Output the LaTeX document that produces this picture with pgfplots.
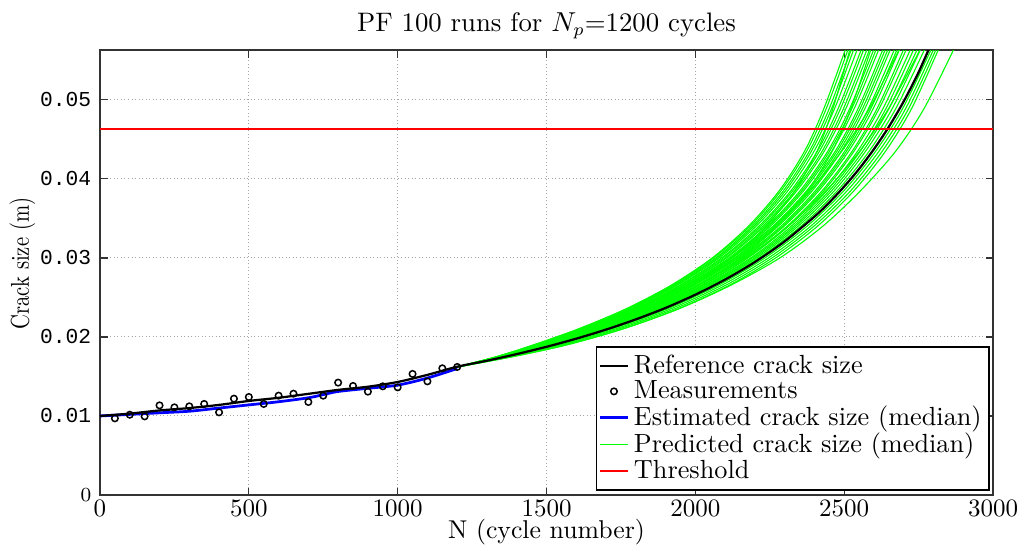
\documentclass[border=0pt]{standalone}
\usepackage{fontspec}
\setmonofont{Liberation Mono}
\usepackage{graphicx}
\usepackage{pgfplots}
\pgfplotsset{compat=1.18}
\pgfplotsset{
    markleg/.style={legend image code/.code={\draw[##1] plot coordinates {(5.5pt,0pt)};}},
    pred/.style={color=green, line width=0.45pt, smooth, forget plot},
}

\begin{document}
\begin{tikzpicture}
\begin{axis}[
    scale only axis,
    width=357.2pt, height=178pt,
    xmin=0, xmax=3000, ymin=0, ymax=0.0563,
    xtick={0,500,1000,1500,2000,2500,3000},
    ytick={0,0.01,0.02,0.03,0.04,0.05},
    scaled y ticks=false,
    /pgf/number format/1000 sep={},
    xticklabel style={font=\fontsize{10.3}{11}\selectfont, yshift=1.2pt},
    yticklabels={$0$,\texttt{0.01},\texttt{0.02},\texttt{0.03},\texttt{0.04},\texttt{0.05}},
    yticklabel style={font=\fontsize{8.5}{9}\selectfont},
    grid=major,
    grid style={densely dotted, black!35, line width=0.4pt},
    major tick length=3pt,
    tick style={black!80, line width=0.5pt},
    axis line style={black!80, line width=0.6pt},
    title={PF 100 runs for $N_p$=1200 cycles},
    title style={at={(axis description cs:0.5,1)}, anchor=center, yshift=3.6pt, font=\fontsize{10.7}{12}\selectfont},
    xlabel={N (cycle number)},
    xlabel style={at={(axis description cs:0.5,0)}, anchor=center, yshift=-14.9pt, inner sep=0pt, font=\fontsize{10.3}{12}\selectfont},
    ylabel={\scalebox{0.8}[1]{Crack size (m)}},
    ylabel style={at={(axis description cs:-0.0868,0.52)}, anchor=center, font=\fontsize{10.3}{12}\selectfont},
    legend image code/.code={\draw[#1] (0pt,0pt) -- (11pt,0pt);},
    legend style={at={(0.9966,0.01)}, anchor=south east, draw=black, line width=0.6pt,
        fill=white, font=\fontsize{10.5}{11}\selectfont, inner sep=1pt, row sep=-2.5pt,
        cells={anchor=west}},
]

% legend entries in the reference order
\addlegendimage{black, line width=0.9pt}
\addlegendentry{Reference crack size}
\addlegendimage{only marks, mark=o, mark size=1.3pt, black, line width=0.6pt, markleg}
\addlegendentry{Measurements}
\addlegendimage{blue, line width=1pt}
\addlegendentry{Estimated crack size (median)}
\addlegendimage{green, line width=0.4pt}
\addlegendentry{Predicted crack size (median)}
\addlegendimage{red, line width=0.8pt}
\addlegendentry{Threshold}

% predicted trajectories (N at crack sizes .0162 .0175 .019 .021 .0235 .0265 .030 .034 .0385 .0435 .049 .057)
\addplot[pred] coordinates {(1200,.0162)(1332,.0175)(1457,.019)(1606,.021)(1764,.0235)(1917,.0265)(2057,.030)(2178,.034)(2282,.0385)(2367,.0435)(2433,.049)(2510,.057)};
\addplot[pred] coordinates {(1200,.0162)(1333,.0175)(1459,.019)(1609,.021)(1768,.0235)(1921,.0265)(2062,.030)(2184,.034)(2288,.0385)(2374,.0435)(2441,.049)(2519,.057)};
\addplot[pred] coordinates {(1200,.0162)(1334,.0175)(1462,.019)(1613,.021)(1773,.0235)(1927,.0265)(2069,.030)(2191,.034)(2296,.0385)(2383,.0435)(2451,.049)(2530,.057)};
\addplot[pred] coordinates {(1200,.0162)(1335,.0175)(1464,.019)(1616,.021)(1777,.0235)(1932,.0265)(2074,.030)(2197,.034)(2303,.0385)(2390,.0435)(2459,.049)(2538,.057)};
\addplot[pred] coordinates {(1200,.0162)(1336,.0175)(1467,.019)(1620,.021)(1782,.0235)(1937,.0265)(2080,.030)(2204,.034)(2311,.0385)(2399,.0435)(2469,.049)(2550,.057)};
\addplot[pred] coordinates {(1200,.0162)(1338,.0175)(1470,.019)(1625,.021)(1788,.0235)(1945,.0265)(2088,.030)(2213,.034)(2321,.0385)(2410,.0435)(2481,.049)(2564,.057)};
\addplot[pred] coordinates {(1200,.0162)(1339,.0175)(1472,.019)(1628,.021)(1792,.0235)(1949,.0265)(2093,.030)(2219,.034)(2327,.0385)(2417,.0435)(2489,.049)(2572,.057)};
\addplot[pred] coordinates {(1200,.0162)(1340,.0175)(1475,.019)(1632,.021)(1797,.0235)(1955,.0265)(2100,.030)(2226,.034)(2335,.0385)(2426,.0435)(2499,.049)(2583,.057)};
\addplot[pred] coordinates {(1200,.0162)(1341,.0175)(1477,.019)(1635,.021)(1800,.0235)(1959,.0265)(2105,.030)(2232,.034)(2341,.0385)(2433,.0435)(2507,.049)(2592,.057)};
\addplot[pred] coordinates {(1200,.0162)(1342,.0175)(1480,.019)(1640,.021)(1807,.0235)(1966,.0265)(2113,.030)(2241,.034)(2352,.0385)(2445,.0435)(2520,.049)(2606,.057)};
\addplot[pred] coordinates {(1200,.0162)(1343,.0175)(1482,.019)(1643,.021)(1810,.0235)(1971,.0265)(2118,.030)(2246,.034)(2358,.0385)(2451,.0435)(2527,.049)(2614,.057)};
\addplot[pred] coordinates {(1200,.0162)(1344,.0175)(1484,.019)(1646,.021)(1814,.0235)(1975,.0265)(2123,.030)(2252,.034)(2364,.0385)(2458,.0435)(2535,.049)(2623,.057)};
\addplot[pred] coordinates {(1200,.0162)(1346,.0175)(1488,.019)(1651,.021)(1820,.0235)(1982,.0265)(2131,.030)(2261,.034)(2374,.0385)(2470,.0435)(2548,.049)(2637,.057)};
\addplot[pred] coordinates {(1200,.0162)(1346,.0175)(1490,.019)(1654,.021)(1824,.0235)(1987,.0265)(2136,.030)(2267,.034)(2380,.0385)(2476,.0435)(2555,.049)(2645,.057)};
\addplot[pred] coordinates {(1200,.0162)(1347,.0175)(1492,.019)(1657,.021)(1828,.0235)(1991,.0265)(2141,.030)(2272,.034)(2387,.0385)(2483,.0435)(2563,.049)(2654,.057)};
\addplot[pred] coordinates {(1200,.0162)(1348,.0175)(1494,.019)(1660,.021)(1832,.0235)(1995,.0265)(2146,.030)(2278,.034)(2393,.0385)(2490,.0435)(2571,.049)(2662,.057)};
\addplot[pred] coordinates {(1200,.0162)(1350,.0175)(1497,.019)(1665,.021)(1838,.0235)(2003,.0265)(2154,.030)(2287,.034)(2403,.0385)(2502,.0435)(2583,.049)(2676,.057)};
\addplot[pred] coordinates {(1200,.0162)(1351,.0175)(1499,.019)(1668,.021)(1842,.0235)(2007,.0265)(2159,.030)(2293,.034)(2409,.0385)(2508,.0435)(2591,.049)(2685,.057)};
\addplot[pred] coordinates {(1200,.0162)(1352,.0175)(1501,.019)(1671,.021)(1845,.0235)(2011,.0265)(2164,.030)(2298,.034)(2415,.0385)(2515,.0435)(2599,.049)(2693,.057)};
\addplot[pred] coordinates {(1200,.0162)(1353,.0175)(1505,.019)(1676,.021)(1852,.0235)(2019,.0265)(2173,.030)(2308,.034)(2426,.0385)(2527,.0435)(2612,.049)(2707,.057)};
\addplot[pred] coordinates {(1200,.0162)(1354,.0175)(1507,.019)(1679,.021)(1855,.0235)(2023,.0265)(2177,.030)(2313,.034)(2432,.0385)(2533,.0435)(2619,.049)(2716,.057)};
\addplot[pred] coordinates {(1200,.0162)(1355,.0175)(1510,.019)(1684,.021)(1862,.0235)(2030,.0265)(2186,.030)(2322,.034)(2442,.0385)(2545,.0435)(2632,.049)(2730,.057)};
\addplot[pred] coordinates {(1200,.0162)(1357,.0175)(1513,.019)(1688,.021)(1867,.0235)(2036,.0265)(2192,.030)(2330,.034)(2450,.0385)(2554,.0435)(2642,.049)(2741,.057)};
\addplot[pred] coordinates {(1200,.0162)(1358,.0175)(1515,.019)(1692,.021)(1872,.0235)(2042,.0265)(2199,.030)(2337,.034)(2458,.0385)(2563,.0435)(2652,.049)(2753,.057)};
\addplot[pred] coordinates {(1200,.0162)(1359,.0175)(1518,.019)(1696,.021)(1877,.0235)(2048,.0265)(2206,.030)(2345,.034)(2467,.0385)(2572,.0435)(2663,.049)(2764,.057)};
\addplot[pred] coordinates {(1200,.0162)(1361,.0175)(1522,.019)(1701,.021)(1883,.0235)(2055,.0265)(2214,.030)(2354,.034)(2477,.0385)(2584,.0435)(2675,.049)(2778,.057)};
\addplot[pred] coordinates {(1200,.0162)(1368,.0175)(1535,.019)(1718,.021)(1902,.0235)(2075,.0265)(2234,.030)(2375,.034)(2499,.0385)(2606,.0435)(2698,.049)(2800,.057)};
\addplot[pred] coordinates {(1200,.0162)(1373,.0175)(1545,.019)(1730,.021)(1914,.0235)(2087,.0265)(2246,.030)(2387,.034)(2510,.0385)(2617,.0435)(2708,.049)(2808,.057)};
\addplot[pred] coordinates {(1200,.0162)(1379,.0175)(1555,.019)(1742,.021)(1927,.0235)(2100,.0265)(2258,.030)(2398,.034)(2522,.0385)(2628,.0435)(2718,.049)(2816,.057)};
\addplot[pred] coordinates {(1200,.0162)(1384,.0175)(1565,.019)(1754,.021)(1939,.0235)(2112,.0265)(2270,.030)(2410,.034)(2533,.0385)(2639,.0435)(2728,.049)(2824,.057)};
\addplot[pred] coordinates {(1200,.0162)(1387,.0175)(1570,.019)(1756,.021)(1941,.0235)(2117,.0265)(2284,.030)(2428,.034)(2555,.0385)(2673,.0435)(2770,.049)(2876,.057)};
\addplot[pred] coordinates {(1200,.0162)(1354,.0175)(1502,.019)(1666,.021)(1830,.0235)(1984,.0265)(2122,.030)(2238,.034)(2334,.0385)(2409,.0435)(2463,.049)(2524,.057)};
\addplot[pred] coordinates {(1200,.0162)(1337,.0175)(1471,.019)(1631,.021)(1802,.0235)(1968,.0265)(2123,.030)(2261,.034)(2385,.0385)(2492,.0435)(2586,.049)(2693,.057)};
\addplot[pred] coordinates {(1200,.0162)(1345,.0175)(1490,.019)(1660,.021)(1837,.0235)(2008,.0265)(2168,.030)(2311,.034)(2439,.0385)(2552,.0435)(2651,.049)(2764,.057)};
\addplot[pred] coordinates {(1200,.0162)(1357,.0175)(1511,.019)(1680,.021)(1849,.0235)(2008,.0265)(2152,.030)(2274,.034)(2377,.0385)(2460,.0435)(2524,.049)(2595,.057)};

% estimated crack size (median)
\addplot[blue, line width=1.1pt, smooth, forget plot] coordinates {
    (0,.0100)(100,.0102)(200,.0104)(300,.0106)(400,.0110)(500,.0114)(600,.0118)
    (700,.0123)(750,.0127)(800,.0131)(900,.0135)(1000,.0139)(1100,.0148)(1200,.0160)};

% reference crack size
\addplot[black, line width=0.9pt, smooth, forget plot] coordinates {
    (0,.0100)(100,.0103)(200,.0107)(300,.0110)(400,.0114)(500,.0119)(600,.0123)
    (700,.0128)(800,.0133)(900,.0137)(1000,.0143)(1100,.0152)(1200,.01623)
    (1300,.01699)(1400,.01783)(1500,.01875)(1600,.01978)(1700,.02093)(1800,.02222)
    (1900,.02367)(2000,.02534)(2100,.02725)(2200,.02947)(2300,.03209)(2400,.03522)
    (2450,.03702)(2500,.03903)(2550,.04125)(2600,.04376)(2650,.04658)(2700,.04980)
    (2750,.05348)(2800,.05777)};

% measurements
\addplot[only marks, mark=o, mark size=1.3pt, black, line width=0.6pt, forget plot] coordinates {
    (50,.00970)(100,.01016)(150,.00995)(200,.01134)(250,.01109)(300,.01122)
    (350,.01152)(400,.01046)(450,.01219)(500,.01240)(550,.01152)(600,.01257)
    (650,.01282)(700,.01177)(750,.01257)(800,.01422)(850,.01380)(900,.01308)
    (950,.01375)(1000,.01362)(1050,.01532)(1100,.01438)(1150,.01603)(1200,.01620)};

% threshold
\addplot[red, line width=0.8pt, forget plot] coordinates {(0,.0463)(3000,.0463)};

\end{axis}
\pgfresetboundingbox
\path[use as bounding box] (current axis.south west) ++(-40pt,-19.9pt)
    rectangle ([xshift=14pt,yshift=20pt]current axis.north east);
\end{tikzpicture}
\end{document}
